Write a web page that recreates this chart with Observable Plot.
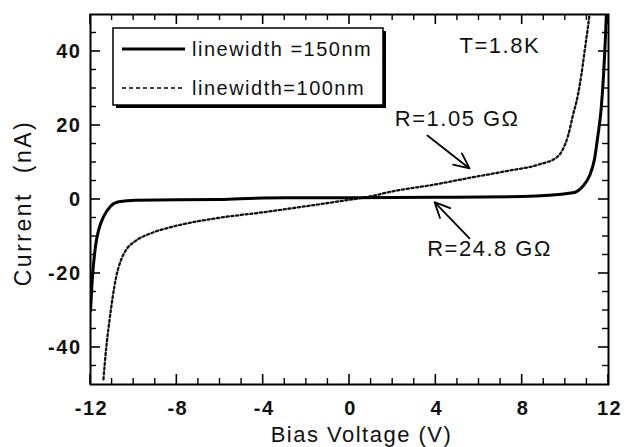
<!DOCTYPE html>
<html>
<head>
<meta charset="utf-8">
<script src="https://cdn.jsdelivr.net/npm/d3@7"></script>
<script src="https://cdn.jsdelivr.net/npm/@observablehq/plot@0.6"></script>
<style>
  html, body { margin: 0; padding: 0; background: #fff; color: #000; }
  svg { display: block; }
  svg text { font-family: "Liberation Sans", Arial, Helvetica, sans-serif; fill: #111; }
</style>
</head>
<body>
<script>
// I–V characteristics at T = 1.8 K for two wire linewidths
const voltage150 = [-12.0, -11.92, -11.77, -11.62, -11.38, -11.07, -10.69, -9.9, -6, -4, 0, 4, 8, 10.35, 10.81, 11.12, 11.35, 11.51, 11.66, 11.77, 11.85, 11.9];
const current150 = [-30.2, -21.8, -12.7, -8.2, -4.5, -1.8, -0.6, -0.2, 0, 0.4, 0.5, 0.6, 0.8, 1.8, 3.6, 6.4, 10.9, 17.3, 24.5, 33.6, 42.7, 50];

const voltage100 = [-11.4, -11.27, -11.12, -10.97, -10.81, -10.58, -10.35, -9.96, -9.19, -8.42, -7.65, -6.1, -4.0, -2.0, -0.6, 1.0, 2.0, 4.0, 5.6, 7.3, 8.8, 9.58, 9.88, 10.12, 10.35, 10.58, 10.74, 10.89, 11.04, 11.12];
const current100 = [-48.6, -40, -32.7, -26.3, -20.9, -16.3, -13.6, -11.4, -9.1, -7.7, -6.6, -5.0, -3.45, -1.8, -0.6, 0.9, 2.2, 4.1, 5.9, 7.7, 9.5, 11.3, 13.5, 17.1, 22.7, 28.2, 33.6, 40, 46.3, 50];

const seriesLabels = ["linewidth =150nm", "linewidth=100nm"];

// axis ticks
const xMajor = [-12, -8, -4, 0, 4, 8, 12];
const xMinor = [-11, -10, -9, -7, -6, -5, -3, -2, -1, 1, 2, 3, 5, 6, 7, 9, 10, 11];
const yMajor = [-40, -20, 0, 20, 40];
const yMinor = [-45, -35, -30, -25, -15, -10, -5, 5, 10, 15, 25, 30, 35, 45];

// annotations
const noteText = ["T=1.8K", "R=1.05 GΩ", "R=24.8 GΩ"];
const noteX = [5.1, 2.1, 3.6];
const noteY = [41.6, 21.9, -13.5];
const arrowFrom = [[3.61, 17.3], [5.56, -10.5]];
const arrowTo = [[5.56, 8.4], [3.94, -0.7]];

const xDomain = [-12, 12], yDomain = [-50, 50];
const W = 624, H = 447;
const mL = 90, mR = 16, mT = 14, mB = 63;

const iv150 = voltage150.map((v, i) => ({v, i: current150[i]}));
const iv100 = voltage100.map((v, i) => ({v, i: current100[i]}));
const notes = noteText.map((t, k) => ({t, x: noteX[k], y: noteY[k]}));
const arrows = arrowFrom.map((a, k) => ({x1: a[0], y1: a[1], x2: arrowTo[k][0], y2: arrowTo[k][1]}));

const chart = Plot.plot({
  width: W, height: H,
  marginLeft: mL, marginRight: mR, marginTop: mT, marginBottom: mB,
  x: {domain: xDomain, axis: null},
  y: {domain: yDomain, axis: null},
  marks: [
    // tick labels
    Plot.text(xMajor, {x: d => d, frameAnchor: "bottom", dy: 24, text: d => String(d),
      fontSize: 20, fontWeight: "bold", lineAnchor: "middle", dx: 1}),
    Plot.text(yMajor, {y: d => d, frameAnchor: "left", dx: -9, text: d => String(d),
      fontSize: 20, fontWeight: "bold", textAnchor: "end"}),
    // x axis title
    Plot.text(["Bias Voltage (V)"], {frameAnchor: "bottom", dx: 12, dy: 50, text: d => d,
      fontSize: 22, lineAnchor: "middle"}),
    // curves
    Plot.line(iv100, {x: "v", y: "i", stroke: "#111", strokeWidth: 2.3, strokeDasharray: "2.2,2.6",
      curve: "monotone-x", clip: true}),
    Plot.line(iv150, {x: "v", y: "i", stroke: "#000", strokeWidth: 3, curve: "monotone-x", clip: true}),
    // annotations
    Plot.text(notes, {x: "x", y: "y", text: "t", fontSize: 22, textAnchor: "start"}),
    Plot.arrow(arrows, {x1: "x1", y1: "y1", x2: "x2", y2: "y2", stroke: "#000", strokeWidth: 1.8,
      headLength: 14, headAngle: 50}),
    Plot.frame({stroke: "#000", strokeWidth: 2})
  ]
});

document.body.appendChild(chart);

const svg = d3.select(chart);
svg.selectAll("text").style("letter-spacing", "1.5px");

// inward tick marks on all four sides, positioned with the plot's scales
const sx = chart.scale("x"), sy = chart.scale("y");
const frameL = sx.apply(xDomain[0]), frameR = sx.apply(xDomain[1]);
const frameB = sy.apply(yDomain[0]), frameT = sy.apply(yDomain[1]);
const tickLayer = svg.append("g").attr("stroke", "#000");
function drawTicks(xs, ys, len, width) {
  xs.forEach(v => {
    const px = sx.apply(v);
    tickLayer.append("line").attr("x1", px).attr("x2", px).attr("y1", frameB).attr("y2", frameB - len).attr("stroke-width", width);
    tickLayer.append("line").attr("x1", px).attr("x2", px).attr("y1", frameT).attr("y2", frameT + len).attr("stroke-width", width);
  });
  ys.forEach(v => {
    const py = sy.apply(v);
    tickLayer.append("line").attr("y1", py).attr("y2", py).attr("x1", frameL).attr("x2", frameL + len).attr("stroke-width", width);
    tickLayer.append("line").attr("y1", py).attr("y2", py).attr("x1", frameR).attr("x2", frameR - len).attr("stroke-width", width);
  });
}
drawTicks(xMajor, yMajor, 10, 1.6);
drawTicks(xMinor, yMinor, 6, 1.4);

// y axis title, rotated, centred on the frame
svg.append("text")
  .attr("transform", `translate(23,${(frameT + frameB) / 2 + 4}) rotate(-90)`)
  .attr("text-anchor", "middle").attr("dy", "0.35em")
  .attr("font-size", 23)
  .style("letter-spacing", "2.5px").style("word-spacing", "10px")
  .text("Current (nA)");

// legend box with drop shadow
const lg = svg.append("g");
const bx = 113, by = 28, bw = 270, bh = 77;
lg.append("rect").attr("x", bx + 3).attr("y", by + 3).attr("width", bw).attr("height", bh).attr("fill", "#000");
lg.append("rect").attr("x", bx).attr("y", by).attr("width", bw).attr("height", bh)
  .attr("fill", "#fff").attr("stroke", "#000").attr("stroke-width", 1.5);
const rows = [
  {y: by + 21, width: 3, dash: null},
  {y: by + 60, width: 1.6, dash: "4,3"}
];
rows.forEach((r, k) => {
  lg.append("line").attr("x1", bx + 9).attr("x2", bx + 72).attr("y1", r.y).attr("y2", r.y)
    .attr("stroke", "#000").attr("stroke-width", r.width).attr("stroke-dasharray", r.dash);
  lg.append("text").attr("x", bx + 79).attr("y", r.y).attr("dy", "0.35em")
    .attr("text-anchor", "start").attr("font-size", 20)
    .style("letter-spacing", "1.5px")
    .text(seriesLabels[k]);
});
</script>
</body>
</html>
